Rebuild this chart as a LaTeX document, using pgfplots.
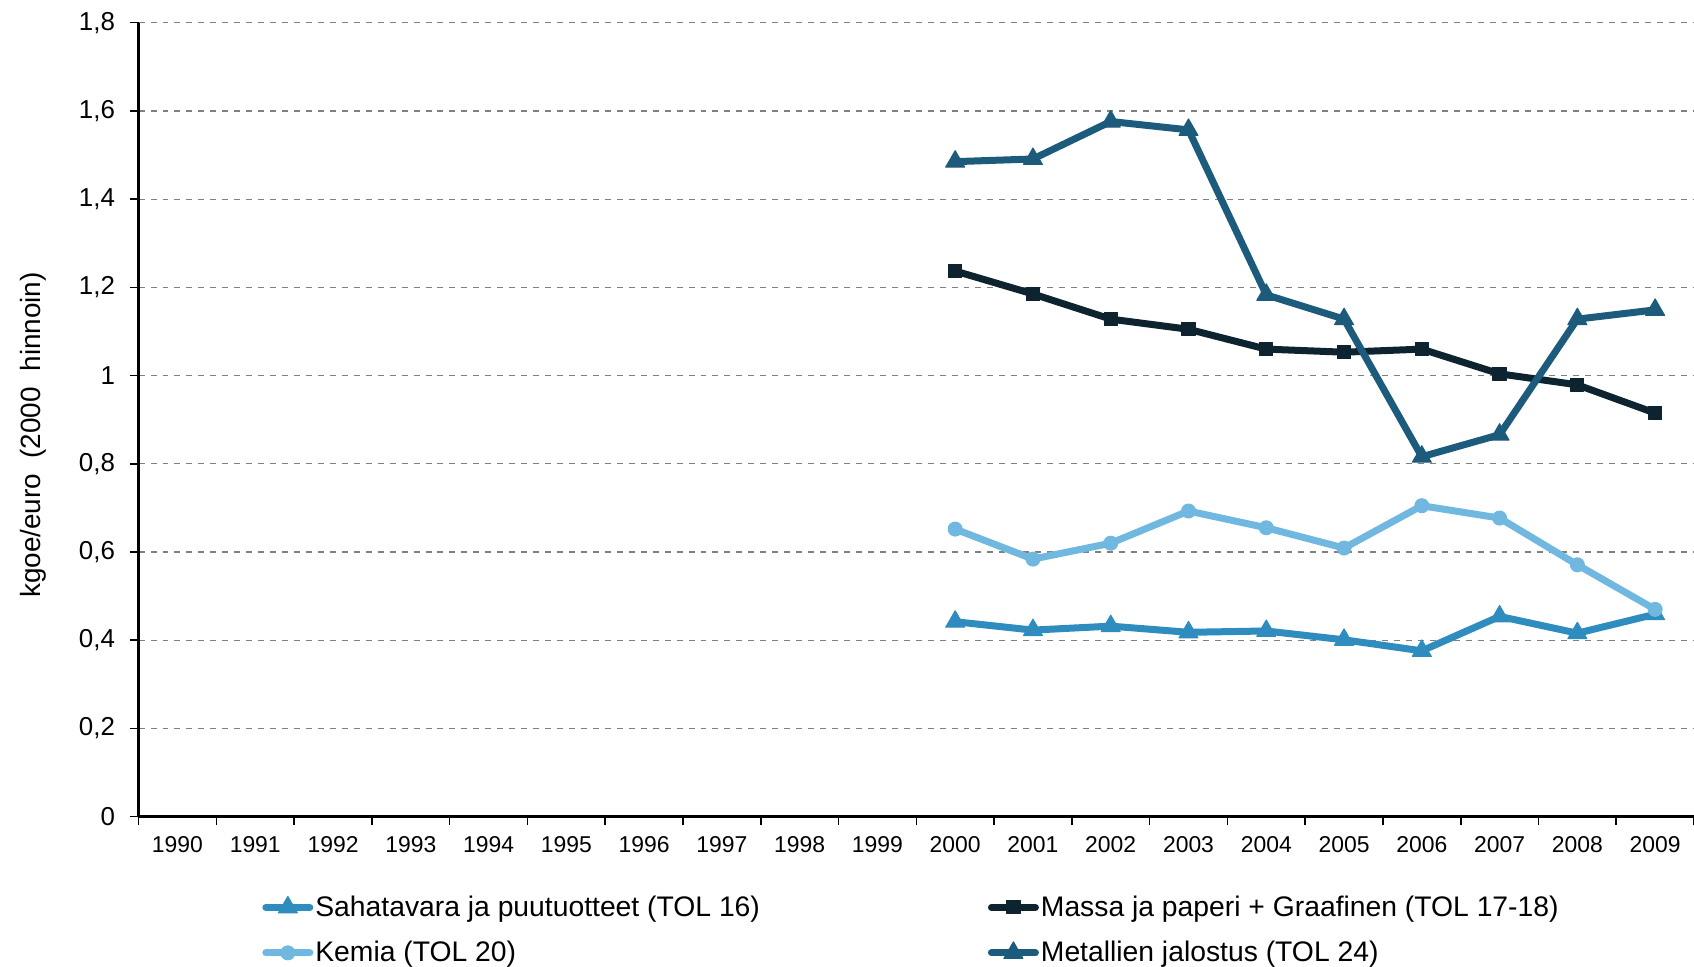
\documentclass[border=0pt]{standalone}
\usepackage{pgfplots}
\pgfplotsset{compat=1.18}
\usepackage{fontspec}
\setmainfont{Liberation Sans}
\definecolor{csaha}{HTML}{2E8CBF}
\definecolor{ckemia}{HTML}{70B8DF}
\definecolor{cmassa}{HTML}{0E2330}
\definecolor{cmetal}{HTML}{1D5B7D}
\begin{document}
\begin{tikzpicture}
\path[use as bounding box] (0,0) rectangle (847bp,483.5bp);
\begin{axis}[
  at={(69.3bp,75.15bp)}, anchor=south west,
  scale only axis, width=777.7bp, height=397bp,
  xmin=-0.5, xmax=19.5, ymin=0, ymax=1.8,
  axis x line*=bottom, axis y line*=left,
  axis line style={black, line width=1.2bp},
  xtick={-0.5,0.5,1.5,2.5,3.5,4.5,5.5,6.5,7.5,8.5,9.5,10.5,11.5,12.5,13.5,14.5,15.5,16.5,17.5,18.5,19.5},
  x tick label as interval,
  xticklabels={1990,1991,1992,1993,1994,1995,1996,1997,1998,1999,2000,2001,2002,2003,2004,2005,2006,2007,2008,2009},
  ytick={0,0.2,0.4,0.6,0.8,1,1.2,1.4,1.6,1.8},
  ymajorgrids, grid style={dashed, gray, line width=0.6bp},
  tick align=outside, major tick length=4.3bp,
  tick style={black, line width=0.8bp},
  /pgf/number format/use comma,
  /pgf/number format/assume math mode=true,
  y tick label style={font=\fontsize{13}{15}\selectfont, xshift=-4bp},
  x tick label style={font=\fontsize{11.5}{13}\selectfont, yshift=-2bp},
  ylabel={kgoe/euro\ \ (2000\ \ hinnoin)},
  ylabel style={font=\fontsize{14}{16}\selectfont, at={(axis description cs:-0.0679,0.4807)}, anchor=center},
  legend columns=2,
  legend style={draw=none, fill=none, inner sep=0pt,
    at={(axis description cs:0.0793,-0.0939)}, anchor=north west,
    font=\fontsize{14.2}{16}\selectfont,
    nodes={inner xsep=1bp},
    row sep=7bp,
    /tikz/every even column/.append style={column sep=113bp}},
  legend cell align=left,
  legend image code/.code={\draw[mark repeat=2,mark phase=2, line cap=round] plot coordinates {(0bp,0bp) (11bp,0bp) (22bp,0bp)};},
  every axis plot/.append style={line width=3.5bp, line join=round},
]
\addplot[color=csaha, mark=triangle*, mark size=5.5bp, mark options={line width=0.5bp}] coordinates {
(10,0.442) (11,0.423) (12,0.432) (13,0.418) (14,0.421) (15,0.401) (16,0.376) (17,0.454) (18,0.416) (19,0.459)};
\addlegendentry{Sahatavara ja puutuotteet (TOL 16)}
\addplot[color=cmassa, mark=square*, mark size=3.3bp, mark options={line width=0.5bp}] coordinates {
(10,1.237) (11,1.185) (12,1.128) (13,1.105) (14,1.060) (15,1.053) (16,1.060) (17,1.004) (18,0.979) (19,0.915)};
\addlegendentry{Massa ja paperi + Graafinen (TOL 17-18)}
\addplot[color=ckemia, mark=*, mark size=3.5bp, mark options={line width=0.5bp}] coordinates {
(10,0.652) (11,0.584) (12,0.620) (13,0.693) (14,0.655) (15,0.609) (16,0.705) (17,0.677) (18,0.571) (19,0.470)};
\addlegendentry{Kemia (TOL 20)}
\addplot[color=cmetal, mark=triangle*, mark size=5.5bp, mark options={line width=0.5bp}] coordinates {
(10,1.485) (11,1.491) (12,1.576) (13,1.557) (14,1.183) (15,1.128) (16,0.816) (17,0.866) (18,1.128) (19,1.149)};
\addlegendentry{Metallien jalostus (TOL 24)}
\end{axis}
\end{tikzpicture}
\end{document}
